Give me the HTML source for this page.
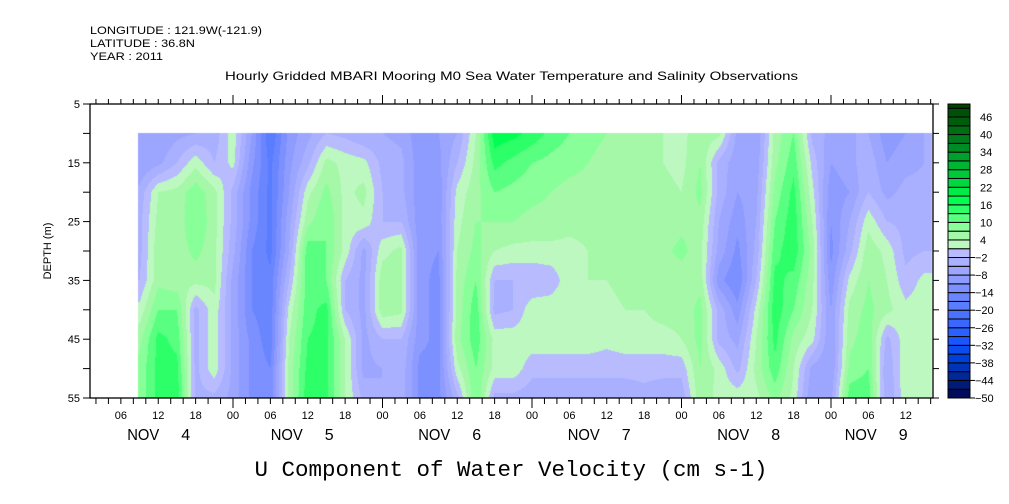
<!DOCTYPE html>
<html><head><meta charset="utf-8"><style>
body{margin:0;background:#fff;width:1009px;height:504px;overflow:hidden;position:relative;font-family:"Liberation Sans",sans-serif}
canvas{position:absolute;left:0;top:0}
svg{position:absolute;left:0;top:0}
</style></head><body>
<canvas id="hm" width="1009" height="504"></canvas>
<svg id="ax" width="1009" height="504"></svg>
<script>
const hours=[9,12,15,18,21,24,27,30,33,36,39,42,45,48,51,54,57,60,63,66,69,72,75,78,81,84,87,90,93,96,99,102,105,108,111,114,117,120,123,126,129,132,135];
const depths=[10,15,20,25,30,35,40,45,50,55];
const values=[
[-8,-8,-4,-3,-3,-2,2,6,8,8],
[-8,-6,4,5,6,6,10,14,14,14],
[-6,-2,5,5,5,5,10,12,14,15],
[-5,3,9,10,8,5,-3,-3,-3,-3],
[-4,-2,5,5,5,5,3,3,3,-3],
[3,2,-3,-3,-4,-6,-6,-6,-6,-6],
[-8,-10,-12,-12,-14,-14,-14,-12,-12,-12],
[-20,-18,-18,-18,-18,-16,-16,-16,-14,-14],
[-10,-9,-8,-6,-5,-2,2,4,5,5],
[-6,-3,3,6,12,12,12,13,14,15],
[-2,5,8,10,10,10,14,14,14,14],
[-3,3,3,3,3,-2,-2,4,4,4],
[-5,2,5,3,-6,-6,-6,-6,-6,-3],
[-5,-3,-2,-2,3,6,6,-2,-5,-5],
[-6,-4,-4,-2,5,5,5,-2,-3,-3],
[-10,-10,-10,-10,-10,-10,-10,-10,-12,-12],
[-8,-9,-10,-10,-11,-12,-12,-12,-12,-12],
[-5,-2,2,3,4,5,5,6,3,-3],
[4,5,6,7,8,10,12,12,10,10],
[18,14,10,7,4,-2,-3,3,3,-3],
[17,12,9,7,3,-2,-2,3,3,-3],
[15,10,8,6,3,-2,3,3,-1,-4],
[12,9,7,6,3,-1,3,3,-1,-4],
[10,8,6,5,3,3,3,3,-1,-4],
[8,7,6,5,4,4,3,3,-1,-4],
[7,6,5,5,5,4,3,2,-1,-4],
[6,5,5,5,5,5,4,3,-1,-4],
[5,5,5,5,5,5,4,3,-1,-3],
[4,4,5,5,6,5,5,3,-1,-4],
[3,3,4,6,8,5,5,4,-1,-4],
[6,7,8,6,5,6,8,8,7,6],
[5,-3,-3,-5,-6,-10,-3,-3,3,3],
[-6,-7,-8,-10,-12,-14,-10,-6,-3,3],
[-8,-7,-6,-5,-4,-2,2,4,5,3],
[5,6,8,10,12,14,15,14,12,8],
[10,12,14,15,15,12,10,6,4,3],
[-3,0,2,4,6,5,4,2,-6,-8],
[-6,-8,-10,-11,-12,-10,-8,-8,-8,-6],
[-5,-6,-8,-5,-3,2,5,6,8,12],
[-5,-3,-2,3,6,7,8,9,10,12],
[-10,-8,-6,-2,3,4,5,-3,-5,-5],
[-8,-6,-4,-3,-3,-1,2,3,4,3],
[-5,-5,-4,-3,-2,2,3,3,3,3]];
const depthTicks=[5,15,25,35,45,55];
const cbarLabels=[46,40,34,28,22,16,10,4,-2,-8,-14,-20,-26,-32,-38,-44,-50];
const dayNums=["4","5","6","7","8","9"];
const dayShift=[0,-6,-8,-8,-8,-30];
const palette=["#000c5a","#001c78","#002898","#0034b8","#0040d8","#0a4cf0","#1a56ff","#2a60ff","#3a68ff","#4a72ff","#5a7cff","#6a86ff","#7c90ff","#8e9cff","#9ca6ff","#a8b0ff","#b8bcff",
"#bcf8c0","#a4f8a8","#88ff98","#58ff80","#2cff68","#00ff50","#00ec48","#00d840","#00c83a","#00b434","#00a02c","#008c24","#007c1c","#006c14","#005c0c","#005008","#004400"];

const X0=90,X1=933,Y0=104,Y1=398;
const xH=h=>83.5+h*149.5/24;
const yD=d=>Y0+(d-5)*(Y1-Y0)/50;
const hOfX=x=>(x-83.5)*24/149.5;
const dOfY=y=>5+(y-Y0)*50/(Y1-Y0);
const lvl=v=>Math.max(0,Math.min(palette.length-1,Math.floor((v+50)/3)));

const c=document.getElementById('hm').getContext('2d');
const xs=Math.round(xH(8.7)), xe=Math.round(xH(136.2)), ys=Math.round(yD(10));
for(let px=xs;px<xe;px++){
  const h=Math.max(hours[0],Math.min(hours[hours.length-1],hOfX(px+0.5)));
  let i=0;while(i<hours.length-2&&hours[i+1]<h)i++;
  const tx=(h-hours[i])/(hours[i+1]-hours[i]);
  for(let py=ys;py<Y1;py++){
    const d=Math.max(10,Math.min(55,dOfY(py+0.5)));
    let j=0;while(j<depths.length-2&&depths[j+1]<d)j++;
    const ty=(d-depths[j])/(depths[j+1]-depths[j]);
    const a=values[i][j]*(1-tx)+values[i+1][j]*tx;
    const b=values[i][j+1]*(1-tx)+values[i+1][j+1]*tx;
    const v=a*(1-ty)+b*ty;
    c.fillStyle=palette[lvl(v)];
    c.fillRect(px,py,1,1);
  }
}

const svg=document.getElementById('ax');const NS='http://www.w3.org/2000/svg';
function mk(t,at,txt){const e=document.createElementNS(NS,t);for(const k in at)e.setAttribute(k,at[k]);if(txt!==undefined)e.textContent=txt;svg.appendChild(e);return e;}
function ln(x1,y1,x2,y2,w){return mk('line',{x1,y1,x2,y2,stroke:'#000','stroke-width':w||1});}

const frame=mk('rect',{x:X0,y:Y0,width:X1-X0,height:Y1-Y0,fill:'none',stroke:'#000','stroke-width':1.3});



for(let h=2;h<=136;h+=2){const x=xH(h);if(x<X0||x>X1)continue;
  const maj=h%24===0;
  ln(x,Y0,x,Y0-(maj?9:5));
  ln(x,Y1,x,Y1+(maj?10:6));
  if(h%6===0){const t=mk('text',{x:x,y:419,'font-size':11,'text-anchor':'middle'},String(h%24).padStart(2,'0'));
    
    }
}
dayNums.forEach((s,k)=>{const xc=xH(24*k+12)+dayShift[k];
  const t=mk('text',{x:xc-31,y:440,'font-size':16,textLength:32,lengthAdjust:'spacingAndGlyphs'},'NOV');
  
  
  const n=mk('text',{x:xc+23,y:440,'font-size':16},s);
  
  });
for(let d=5;d<=55;d+=5){const y=yD(d);ln(X0-7,y,X0,y);ln(X1,y,X1+6,y);}
depthTicks.forEach(d=>{const t=mk('text',{x:80,y:yD(d)+4,'font-size':11,'text-anchor':'end'},String(d));
  
  });
const yt=mk('text',{x:51,y:251,'font-size':11,'text-anchor':'middle',transform:'rotate(-90 51 251)'},'DEPTH (m)');



const CB0=948,CBW=22,cy=v=>Y1-(v+50)*(Y1-117)/96;
for(let k=0;k<palette.length;k++){const top=Math.max(Y0,cy(-50+3*(k+1))),bot=cy(-50+3*k);if(bot<=Y0)break;
  const r=mk('rect',{x:CB0,y:top,width:CBW,height:bot-top,fill:palette[k],stroke:'#000','stroke-width':1});
  
  }
cbarLabels.forEach(v=>{const y=cy(v);if(v<0)ln(CB0+CBW,y,CB0+CBW+5,y);
  const t=mk('text',{x:v<0?975:980,y:y+4,'font-size':11},v<0?'\u2212'+(-v):String(v));
  
  });

[['LONGITUDE : 121.9W(-121.9)',34,172],['LATITUDE : 36.8N',47,105],['YEAR : 2011',60,73]].forEach(a=>{
  const t=mk('text',{x:90,y:a[1],'font-size':11,textLength:a[2],lengthAdjust:'spacingAndGlyphs'},a[0]);
  
  });
const tt=mk('text',{x:225,y:80,'font-size':12,textLength:573,lengthAdjust:'spacingAndGlyphs'},'Hourly Gridded MBARI Mooring M0 Sea Water Temperature and Salinity Observations');


const xt=mk('text',{x:511,y:476,'font-size':22.5,'text-anchor':'middle','font-family':'Liberation Mono, monospace'},'U Component of Water Velocity (cm s-1)');


</script>
</body></html>
